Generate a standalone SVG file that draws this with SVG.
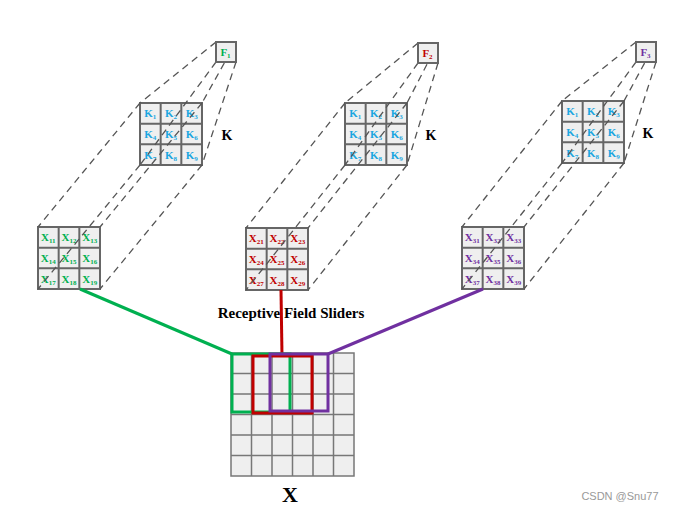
<svg xmlns="http://www.w3.org/2000/svg" width="673" height="510" viewBox="0 0 673 510">
<style>
.bg{fill:#ffffff}
.cell{fill:#efefef;stroke:#666;stroke-width:2}
.inner{fill:none;stroke:#666;stroke-width:2}
.dash{fill:none;stroke:#555;stroke-width:1.3;stroke-dasharray:7 5}
.t{font-family:"Liberation Serif","Times New Roman",serif;font-weight:bold;font-size:11px;text-anchor:middle}
.s{font-size:7px}
.kc{fill:#1BA6E0}
.g{fill:#00B050}
.r{fill:#C00000}
.p{fill:#7030A0}
.lbl{font-family:"Liberation Serif","Times New Roman",serif;font-weight:bold;fill:#000;text-anchor:middle}
.big{fill:#efefef;stroke:#777;stroke-width:1.5}
</style>
<rect class="bg" x="0" y="0" width="673" height="510"/>

<!-- Group 1 -->
<g id="k1">
<rect class="cell" x="140" y="103" width="62" height="62"/>
<path class="inner" d="M160.67 103V165M181.33 103V165M140 123.67H202M140 144.33H202"/>
<g class="t kc">
<text x="150.3" y="117.3">K<tspan class="s" dy="2">1</tspan></text>
<text x="171" y="117.3">K<tspan class="s" dy="2">2</tspan></text>
<text x="191.7" y="117.3">K<tspan class="s" dy="2">3</tspan></text>
<text x="150.3" y="138">K<tspan class="s" dy="2">4</tspan></text>
<text x="171" y="138">K<tspan class="s" dy="2">5</tspan></text>
<text x="191.7" y="138">K<tspan class="s" dy="2">6</tspan></text>
<text x="150.3" y="158.7">K<tspan class="s" dy="2">7</tspan></text>
<text x="171" y="158.7">K<tspan class="s" dy="2">8</tspan></text>
<text x="191.7" y="158.7">K<tspan class="s" dy="2">9</tspan></text>
</g>
<text class="lbl" x="227" y="139.5" font-size="14">K</text>
</g>
<g id="x1">
<rect class="cell" x="38" y="227" width="62" height="62"/>
<path class="inner" d="M58.67 227V289M79.33 227V289M38 247.67H100M38 268.33H100"/>
<g class="t g">
<text x="48.3" y="241.3">X<tspan class="s" dy="2">11</tspan></text>
<text x="69" y="241.3">X<tspan class="s" dy="2">12</tspan></text>
<text x="89.7" y="241.3">X<tspan class="s" dy="2">13</tspan></text>
<text x="48.3" y="262">X<tspan class="s" dy="2">14</tspan></text>
<text x="69" y="262">X<tspan class="s" dy="2">15</tspan></text>
<text x="89.7" y="262">X<tspan class="s" dy="2">16</tspan></text>
<text x="48.3" y="282.7">X<tspan class="s" dy="2">17</tspan></text>
<text x="69" y="282.7">X<tspan class="s" dy="2">18</tspan></text>
<text x="89.7" y="282.7">X<tspan class="s" dy="2">19</tspan></text>
</g>
</g>

<!-- Group 2 -->
<g id="k2">
<rect class="cell" x="345" y="103" width="62" height="62"/>
<path class="inner" d="M365.67 103V165M386.33 103V165M345 123.67H407M345 144.33H407"/>
<g class="t kc">
<text x="355.3" y="117.3">K<tspan class="s" dy="2">1</tspan></text>
<text x="376" y="117.3">K<tspan class="s" dy="2">2</tspan></text>
<text x="396.7" y="117.3">K<tspan class="s" dy="2">3</tspan></text>
<text x="355.3" y="138">K<tspan class="s" dy="2">4</tspan></text>
<text x="376" y="138">K<tspan class="s" dy="2">5</tspan></text>
<text x="396.7" y="138">K<tspan class="s" dy="2">6</tspan></text>
<text x="355.3" y="158.7">K<tspan class="s" dy="2">7</tspan></text>
<text x="376" y="158.7">K<tspan class="s" dy="2">8</tspan></text>
<text x="396.7" y="158.7">K<tspan class="s" dy="2">9</tspan></text>
</g>
<text class="lbl" x="431" y="139.5" font-size="14">K</text>
</g>
<g id="x2">
<rect class="cell" x="246" y="228" width="62" height="62"/>
<path class="inner" d="M266.67 228V290M287.33 228V290M246 248.67H308M246 269.33H308"/>
<g class="t r">
<text x="256.3" y="242.3">X<tspan class="s" dy="2">21</tspan></text>
<text x="277" y="242.3">X<tspan class="s" dy="2">22</tspan></text>
<text x="297.7" y="242.3">X<tspan class="s" dy="2">23</tspan></text>
<text x="256.3" y="263">X<tspan class="s" dy="2">24</tspan></text>
<text x="277" y="263">X<tspan class="s" dy="2">25</tspan></text>
<text x="297.7" y="263">X<tspan class="s" dy="2">26</tspan></text>
<text x="256.3" y="283.7">X<tspan class="s" dy="2">27</tspan></text>
<text x="277" y="283.7">X<tspan class="s" dy="2">28</tspan></text>
<text x="297.7" y="283.7">X<tspan class="s" dy="2">29</tspan></text>
</g>
</g>

<!-- Group 3 -->
<g id="k3">
<rect class="cell" x="562" y="101" width="62" height="62"/>
<path class="inner" d="M582.67 101V163M603.33 101V163M562 121.67H624M562 142.33H624"/>
<g class="t kc">
<text x="572.3" y="115.3">K<tspan class="s" dy="2">1</tspan></text>
<text x="593" y="115.3">K<tspan class="s" dy="2">2</tspan></text>
<text x="613.7" y="115.3">K<tspan class="s" dy="2">3</tspan></text>
<text x="572.3" y="136">K<tspan class="s" dy="2">4</tspan></text>
<text x="593" y="136">K<tspan class="s" dy="2">5</tspan></text>
<text x="613.7" y="136">K<tspan class="s" dy="2">6</tspan></text>
<text x="572.3" y="156.7">K<tspan class="s" dy="2">7</tspan></text>
<text x="593" y="156.7">K<tspan class="s" dy="2">8</tspan></text>
<text x="613.7" y="156.7">K<tspan class="s" dy="2">9</tspan></text>
</g>
<text class="lbl" x="648" y="137.5" font-size="14">K</text>
</g>
<g id="x3">
<rect class="cell" x="462" y="227" width="62" height="62"/>
<path class="inner" d="M482.67 227V289M503.33 227V289M462 247.67H524M462 268.33H524"/>
<g class="t p">
<text x="472.3" y="241.3">X<tspan class="s" dy="2">31</tspan></text>
<text x="493" y="241.3">X<tspan class="s" dy="2">32</tspan></text>
<text x="513.7" y="241.3">X<tspan class="s" dy="2">33</tspan></text>
<text x="472.3" y="262">X<tspan class="s" dy="2">34</tspan></text>
<text x="493" y="262">X<tspan class="s" dy="2">35</tspan></text>
<text x="513.7" y="262">X<tspan class="s" dy="2">36</tspan></text>
<text x="472.3" y="282.7">X<tspan class="s" dy="2">37</tspan></text>
<text x="493" y="282.7">X<tspan class="s" dy="2">38</tspan></text>
<text x="513.7" y="282.7">X<tspan class="s" dy="2">39</tspan></text>
</g>
</g>

<!-- Input grid X -->
<g id="input">
<rect class="big" x="231" y="353" width="123" height="123"/>
<path fill="none" stroke="#777" stroke-width="1.5" d="M251.5 353V476M272 353V476M292.5 353V476M313 353V476M333.5 353V476M231 373.5H354M231 394H354M231 414.5H354M231 435H354M231 455.5H354"/>
<text class="lbl" x="290" y="502" font-size="22">X</text>
</g>

<!-- connectors -->
<g id="connectors">
<g class="dash">
<path d="M216 42L140 103M236 42L202 103M216 62L140 165M236 62L202 165"/>
<path d="M140 103L38 227M202 103L100 227M140 165L38 289M202 165L100 289"/>
<path d="M418 43L345 103M438 43L407 103M418 63L345 165M438 63L407 165"/>
<path d="M345 103L246 228M407 103L308 228M345 165L246 290M407 165L308 290"/>
<path d="M636 42L562 101M656 42L624 101M636 62L562 163M656 62L624 163"/>
<path d="M562 101L462 227M624 101L524 227M562 163L462 289M624 163L524 289"/>
</g>
<text class="lbl" x="291" y="318" font-size="15">Receptive Field Sliders</text>
<g fill="none" stroke-width="3">
<path stroke="#00B050" d="M80 289L232 354"/>
<path stroke="#C00000" d="M281 290L282 356"/>
<path stroke="#7030A0" d="M483 289L328 354"/>
<rect stroke="#00B050" x="232" y="354" width="58" height="58"/>
<rect stroke="#C00000" x="253" y="356" width="59" height="57"/>
<rect stroke="#7030A0" x="270" y="354" width="58" height="57"/>
</g>
</g>

<!-- filter outputs -->
<g id="f1">
<rect class="cell" x="216" y="42" width="20" height="20"/>
<text class="t g" x="225.5" y="56">F<tspan class="s" dy="2">1</tspan></text>
</g>
<g id="f2">
<rect class="cell" x="418" y="43" width="20" height="20"/>
<text class="t r" x="427.5" y="57">F<tspan class="s" dy="2">2</tspan></text>
</g>
<g id="f3">
<rect class="cell" x="636" y="42" width="20" height="20"/>
<text class="t p" x="645.5" y="56">F<tspan class="s" dy="2">3</tspan></text>
</g>

<text x="620" y="500" font-family="Liberation Sans, Arial, sans-serif" font-size="11" fill="#999" text-anchor="middle">CSDN @Snu77</text>
</svg>
